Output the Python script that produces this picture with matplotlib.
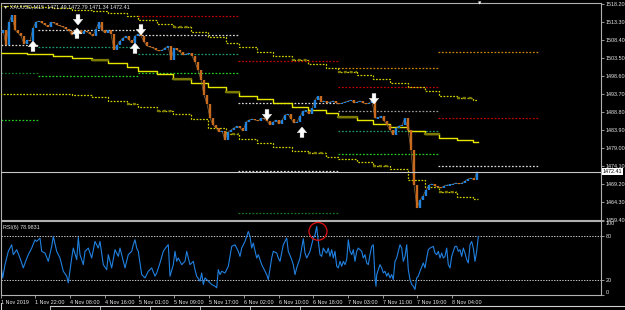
import numpy as np
import matplotlib
matplotlib.use("Agg")
import matplotlib.pyplot as plt
from matplotlib.patches import Ellipse
from matplotlib.lines import Line2D

plt.rcParams['font.family'] = ['Liberation Sans', 'DejaVu Sans']

# ---------------- data ----------------
symbol_header = "\u25bc XAUUSD,M15  1471.49 1472.79 1471.34 1472.41"
rsi_label = "RSI(6) 78.9831"
last_price = 1472.41

# bar positions (chart x units) and closes
bar_step = 3
close = [1510.17, 1510.99, 1506.90, 1513.16, 1515.07, 1510.99, 1510.17, 1509.35, 1507.18, 1508.26,
         1507.99, 1511.53, 1513.16, 1513.44, 1512.89, 1512.35, 1511.80, 1513.16, 1512.89, 1512.35,
         1512.08, 1511.80, 1511.26, 1510.71, 1509.63, 1510.44, 1510.99, 1509.90, 1510.71, 1510.44,
         1509.90, 1509.35, 1511.26, 1513.16, 1510.99, 1510.17, 1510.99, 1509.90, 1505.54, 1506.90,
         1507.99, 1508.81, 1509.35, 1508.26, 1507.46, 1509.35, 1509.90, 1509.35, 1507.72, 1506.63,
         1506.36, 1506.09, 1505.54, 1505.27, 1505.54, 1506.09, 1506.63, 1502.82, 1506.09, 1505.54,
         1505.00, 1504.18, 1504.45, 1504.72, 1503.91, 1502.28, 1500.10, 1497.38, 1493.29, 1490.84,
         1487.03, 1485.13, 1484.31, 1483.22, 1483.49, 1481.04, 1483.22, 1483.77, 1484.31, 1484.85,
         1484.31, 1483.49, 1485.94, 1486.49, 1486.76, 1486.49, 1486.22, 1487.03, 1486.76, 1486.22,
         1485.13, 1485.94, 1486.49, 1485.40, 1486.49, 1487.85, 1488.12, 1486.76, 1485.67, 1485.94,
         1487.58, 1488.94, 1488.94, 1488.12, 1489.75, 1491.93, 1493.02, 1491.39, 1491.66, 1491.12,
         1491.39, 1491.66, 1491.12, 1490.84, 1491.12, 1491.39, 1491.66, 1491.93, 1491.12, 1491.39,
         1491.66, 1491.12, 1490.84, 1491.12, 1491.66, 1487.03, 1487.03, 1487.58, 1486.22, 1485.13,
         1483.77, 1482.40, 1484.31, 1484.85, 1485.13, 1487.03, 1483.77, 1478.32, 1468.79, 1462.53,
         1464.71, 1465.80, 1467.43, 1468.79, 1469.07, 1468.52, 1468.25, 1467.97, 1468.52, 1468.79,
         1468.79, 1469.07, 1469.34, 1469.07, 1469.34, 1469.88, 1470.43, 1470.70, 1470.15, 1472.41]

# stepped envelope (upper dotted, middle solid, lower dotted)
band_x = [0, 27, 53, 72, 92, 108, 127, 138, 157, 173, 191, 208, 226, 239, 257, 273, 292, 308,
          326, 338, 357, 373, 390, 408, 425, 439, 457, 473]
band_end = 478
band_upper = [1517.52, 1517.25, 1516.98, 1516.43, 1516.16, 1515.61, 1514.80, 1513.71, 1512.62, 1511.80,
              1510.44, 1509.08, 1507.45, 1506.36, 1505.00, 1503.91, 1502.82, 1501.73, 1500.64, 1499.55,
              1498.74, 1497.65, 1496.56, 1495.47, 1494.38, 1493.02, 1492.48, 1491.93]
band_mid = [1504.86, 1504.45, 1503.91, 1503.37, 1502.82, 1502.00, 1500.91, 1499.82, 1499.01, 1497.65,
            1496.56, 1495.47, 1494.11, 1493.02, 1492.20, 1491.12, 1490.03, 1489.21, 1488.39, 1487.30,
            1486.49, 1485.40, 1484.58, 1483.49, 1482.67, 1481.59, 1481.04, 1480.50]
band_lower = [1493.56, 1493.56, 1493.56, 1493.29, 1492.75, 1491.66, 1490.84, 1490.03, 1488.94, 1488.12,
              1486.76, 1484.31, 1482.67, 1481.32, 1480.23, 1479.14, 1478.05, 1477.50, 1476.41, 1475.87,
              1475.05, 1473.97, 1473.15, 1470.15, 1468.25, 1466.89, 1465.53, 1464.98]
olive_upper = [9, 16, 19, 26]
olive_mid = [4, 9, 12, 19, 24]
olive_lower = [6, 8, 12, 17, 21, 25]

# daily level segments: (start, end, price, kind)
day_levels = [
    (1, 38, 1506.90, 'white'), (1, 38, 1499.28, 'dkgreen'), (1, 38, 1486.49, 'green'),
    (38, 138, 1510.99, 'white'), (38, 138, 1506.36, 'teal'), (38, 138, 1498.46, 'green'),
    (138, 238, 1514.80, 'red'), (138, 238, 1509.63, 'white'), (138, 238, 1504.45, 'teal'),
    (138, 238, 1499.28, 'green'),
    (238, 338, 1502.55, 'red'), (238, 338, 1491.12, 'white'), (238, 338, 1472.55, 'white'),
    (238, 338, 1461.17, 'dkgreen'),
    (338, 438, 1500.64, 'orange'), (338, 438, 1495.47, 'red'), (338, 438, 1488.94, 'gray'),
    (338, 438, 1483.49, 'teal'), (338, 438, 1477.23, 'green'),
    (438, 538, 1505.00, 'orange'), (438, 538, 1487.03, 'red'), (438, 538, 1473.97, 'white'),
]

# fractal arrows (tip prices)
up_x = [33, 77, 135, 302]
up_price = [1507.99, 1511.53, 1507.45, 1484.58]
down_x = [78, 141, 267, 374]
down_price = [1512.35, 1509.63, 1486.49, 1490.84]

price_ticks = [1518.20, 1513.30, 1508.40, 1503.50, 1498.60, 1493.70, 1488.80, 1483.90,
               1479.00, 1474.10, 1469.20, 1464.30, 1459.40]

rsi_x = [0, 2.7, 5, 8.3, 11.7, 13.3, 16.7, 20, 23.3, 25, 28.3, 31.7, 35, 36.7, 40, 41.7, 45, 48.3,
         51.7, 53.3, 56.7, 60, 63.3, 66.7, 68.3, 71.7, 73.3, 76.7, 78.3, 80, 83.3, 85, 88.3, 91.7, 95,
         98.3, 100, 103.3, 106.7, 108.3, 111.7, 115, 118.3, 120, 123.3, 125, 128.3, 131.7, 133.3, 135,
         136.7, 138.3, 141.7, 145, 148.3, 151.7, 155, 156.7, 160, 163.3, 166.7, 168.3, 170, 173.3, 175,
         176.7, 178.3, 181.7, 185, 186.7, 190, 193.3, 195, 196.7, 200, 201.7, 203.3, 205, 208.3, 211.7,
         215, 216.7, 218.3, 220, 221.7, 225, 228.3, 231.7, 235, 238.3, 240, 241.7, 245, 248.3, 250,
         251.7, 253.3, 256.7, 258.3, 261.7, 265, 266.7, 268.3, 271.7, 273.3, 276.7, 278.3, 280, 283.3,
         286.7, 288.3, 291.7, 293.3, 295, 296.7, 300, 301.7, 303.3, 305, 306.7, 310,
         313.3, 315, 316.7, 318.3, 320, 321.7, 323.3, 325, 326.7, 328.3, 330, 331.7, 333.3, 335, 336.7,
         338.3, 340, 341.7, 343.3, 345, 346.7, 348.3, 350, 351.7, 353.3, 355, 356.7, 358.3, 360, 361.7,
         363.3, 365, 366.7, 368.3, 370, 371.7, 373.3, 375, 376, 376.7, 378.3, 380, 381.7, 383.3, 385,
         386.7, 388.3, 390, 391.7, 393.3, 395, 396.7, 398.3, 400, 401.7, 403.3, 405, 406.7, 408.3, 410,
         411.7, 413.3, 415, 416.7, 418.3, 420, 423.3, 425, 426.7, 428.3, 430, 433.3, 435, 436.7, 438.3,
         440, 441.7, 443.3, 445, 446.7, 448.3, 450, 451.7, 453.3, 455, 456.7, 458.3, 460, 461.7, 463.3,
         465, 466.7, 468.3, 470, 471.7, 473.3, 475, 476.7, 478.3]
rsi_val = [50.0, 23.1, 41.0, 59.0, 67.9, 54.5, 61.2, 50.0, 36.6, 43.3, 54.5, 63.4, 74.6, 72.4, 76.9,
           59.0, 56.7, 45.5, 65.7, 79.1, 59.0, 50.0, 32.1, 25.4, 16.4, 50.0, 63.4, 47.8, 77.8, 54.5,
           41.0, 59.0, 63.4, 50.0, 72.4, 63.4, 72.4, 41.0, 34.3, 54.5, 36.6, 61.2, 52.2, 63.4, 45.5,
           36.6, 54.5, 59.0, 67.9, 74.6, 63.4, 59.0, 27.6, 23.1, 32.1, 36.6, 25.4, 29.8, 43.3, 59.0,
           65.7, 67.9, 25.4, 41.0, 59.0, 45.5, 50.0, 41.0, 45.5, 59.0, 41.0, 45.5, 34.3, 25.4, 18.7,
           29.8, 14.2, 23.1, 18.7, 14.2, 11.9, 9.7, 34.3, 27.6, 32.1, 29.8, 38.8, 65.7, 67.9, 59.0,
           52.2, 63.4, 72.4, 85.8, 79.1, 63.4, 70.1, 50.0, 54.5, 41.0, 32.1, 27.6, 20.9, 50.0, 59.0,
           56.7, 50.0, 45.5, 67.9, 76.9, 59.0, 47.8, 41.0, 27.6, 36.6, 50.0, 63.4, 76.0, 56.7, 50.0,
           59.0,
           76.9, 81.3, 92.5, 72.4, 54.5, 52.2, 63.4, 59.0, 56.7, 63.4, 52.2, 61.2, 50.0, 59.0, 38.8,
           36.6, 45.5, 38.8, 45.5, 41.0, 47.8, 74.6, 59.0, 54.5, 61.2, 45.5, 59.0, 63.4, 61.2, 59.0,
           50.0, 54.5, 43.3, 41.0, 54.5, 65.7, 67.9, 23.1, 11.9, 27.6, 34.3, 41.0, 36.6, 29.8, 32.1,
           25.4, 29.8, 23.1, 27.6, 20.9, 45.5, 50.0, 59.0, 67.9, 63.4, 45.5, 52.2, 67.9, 34.3, 20.9,
           14.2, 11.9, 7.5, 23.1, 25.4, 32.1, 43.3, 36.6, 50.0, 61.2, 63.4, 65.7, 56.7, 54.5, 59.0,
           50.0, 56.7, 50.0, 52.2, 63.4, 41.0, 36.6, 52.2, 59.0, 65.7, 65.7, 59.0, 61.2, 52.2, 63.4,
           56.7, 47.8, 43.3, 67.9, 72.4, 63.4, 45.5, 59.0, 79.0]
rsi_ticks = [100, 80, 20, 0]
rsi_levels = [80, 20]

time_labels = ["1 Nov 2019", "1 Nov 22:00", "4 Nov 08:00", "4 Nov 16:00", "5 Nov 01:00",
               "5 Nov 09:00", "5 Nov 17:00", "6 Nov 02:00", "6 Nov 10:00", "6 Nov 18:00",
               "7 Nov 03:00", "7 Nov 11:00", "7 Nov 19:00", "8 Nov 04:00"]
time_pos = [1, 35, 70, 105, 139, 174, 209, 244, 279, 313, 348, 383, 417, 452]

# ---------------- style ----------------
W, H = 625, 310
BG = 'black'
BORDER = '#b0b0b0'
TXT = '#e8e8e8'
UP = '#1f82dc'
DN = '#c86a1e'
colors = {'white': '#d8d8d8', 'gray': '#9a9a9a', 'red': '#c80000', 'orange': '#d08a00',
          'teal': '#1f9a6a', 'green': '#22d022', 'dkgreen': '#167a22'}
FS = 3.9

fig = plt.figure(figsize=(W / 100, H / 100), dpi=100, facecolor=BG)


def fy(px):
    return 1 - px / H


ax = fig.add_axes([1 / W, fy(219.5), 600 / W, (219.5 - 3) / H], facecolor=BG)
rs = fig.add_axes([1 / W, fy(295), 600 / W, (295 - 221) / H], facecolor=BG)

for a in (ax, rs):
    a.set_xlim(1, 601)
    for s in a.spines.values():
        s.set_color(BORDER)
        s.set_linewidth(0.8)
    a.yaxis.tick_right()
    a.tick_params(axis='y', colors=BORDER, labelcolor=TXT, labelsize=FS, length=2, width=0.6, pad=1.2)

ax.set_ylim(1459.40, 1518.34)
rs.set_ylim(0, 100)

# daily level lines
for x0, x1, p, kind in day_levels:
    ax.plot([x0, x1], [p, p], color=colors[kind], lw=0.9, ls=(0, (1.4, 1.4)), zorder=2)

# envelope steps
bx = band_x + [band_end]


def step_line(vals, **kw):
    ax.step(bx, vals + [vals[-1]], where='post', **kw)


step_line(band_upper, color='#d0d000', lw=0.9, ls=(0, (1.4, 1.2)), zorder=3)
step_line(band_lower, color='#d0d000', lw=0.9, ls=(0, (1.4, 1.2)), zorder=3)
step_line(band_mid, color='#e6e600', lw=1.0, zorder=3)
for idxs, vals, ls in ((olive_upper, band_upper, (0, (1.4, 1.2))),
                       (olive_lower, band_lower, (0, (1.4, 1.2))),
                       (olive_mid, band_mid, '-')):
    for i in idxs:
        ax.plot([bx[i], bx[i + 1]], [vals[i], vals[i]], color='#7c7a00', lw=1.6, ls=ls, zorder=3.5)

# candles (body from previous close to close)
cx = np.arange(len(close)) * bar_step
c = np.array(close)
ax.plot(cx, c, color='#8a6a40', lw=0.5, zorder=4)
for i in range(1, len(c)):
    o, cl = c[i - 1], c[i]
    col = UP if cl >= o else DN
    lo, hi = min(o, cl), max(o, cl)
    if hi - lo < 0.25:
        hi += 0.15
        lo -= 0.15
    ax.vlines(cx[i], lo, hi, color=col, lw=1.7, zorder=5)

# current price line
ax.axhline(last_price, color='#c8c8c8', lw=0.8, zorder=6)

# arrows
astyle = 'simple,head_length=0.45,head_width=0.75,tail_width=0.3'
for x, p in zip(up_x, up_price):
    ax.annotate('', xy=(x, p), xytext=(0, -7.5), textcoords='offset points',
                arrowprops=dict(arrowstyle=astyle, fc='white', ec='white', lw=0.3,
                                mutation_scale=9, shrinkA=0, shrinkB=0), zorder=7)
for x, p in zip(down_x, down_price):
    ax.annotate('', xy=(x, p), xytext=(0, 7.5), textcoords='offset points',
                arrowprops=dict(arrowstyle=astyle, fc='white', ec='white', lw=0.3,
                                mutation_scale=9, shrinkA=0, shrinkB=0), zorder=7)

# price axis
ax.set_yticks(price_ticks)
ax.set_yticklabels([f"{v:.2f}" for v in price_ticks])
ax.set_xticks([])
ax.text(1.0033, last_price, f"{last_price:.2f}", transform=ax.get_yaxis_transform(),
        fontsize=FS, color='black', va='center', ha='left',
        bbox=dict(boxstyle='square,pad=0.15', fc='white', ec='none'), zorder=10, clip_on=False)

# RSI
for lv in rsi_levels:
    rs.axhline(lv, color='#c8c8c8', lw=0.7, ls=(0, (1.4, 1.4)))
rs.plot(rsi_x, rsi_val, color='#2080e0', lw=0.8)
rs.add_patch(Ellipse((318, 86), 18, 24, fill=False, ec='#e01010', lw=0.9, clip_on=False, zorder=8))
rs.set_yticks(rsi_ticks)
rs.set_yticklabels([str(v) for v in rsi_ticks])
labs = rs.get_yticklabels()
labs[0].set_va('top')
labs[-1].set_va('bottom')
rs.set_xticks(time_pos)
rs.set_xticklabels(time_labels)
rs.tick_params(axis='x', colors=BORDER, labelcolor=TXT, labelsize=FS, length=2.5, width=0.6, pad=0.8)
for t in rs.get_xticklabels():
    t.set_ha('left')

# header texts
fig.text(3 / W, fy(7), symbol_header, color=TXT, fontsize=FS, va='center', ha='left')
fig.text(3 / W, fy(228), rsi_label, color=TXT, fontsize=FS, va='center', ha='left')
# chart shift marker
fig.text(480 / W, fy(3.5), "\u25bc", color='white', fontsize=3.2, va='center', ha='center',
         family='DejaVu Sans')

# bottom tab strip
fig.add_artist(Line2D([50 / W, 1], [fy(305.5), fy(305.5)], color='#d0d0d0', lw=0.8))
for tx in (50, 100, 150, 200, 250, 300):
    fig.add_artist(Line2D([tx / W, tx / W], [fy(305.5), 0], color='#d0d0d0', lw=0.6))
fig.add_artist(Line2D([1 / W, 1 / W], [fy(303), 0], color='#d0d0d0', lw=0.8))

fig.savefig("out.png", dpi=100, facecolor=BG)
